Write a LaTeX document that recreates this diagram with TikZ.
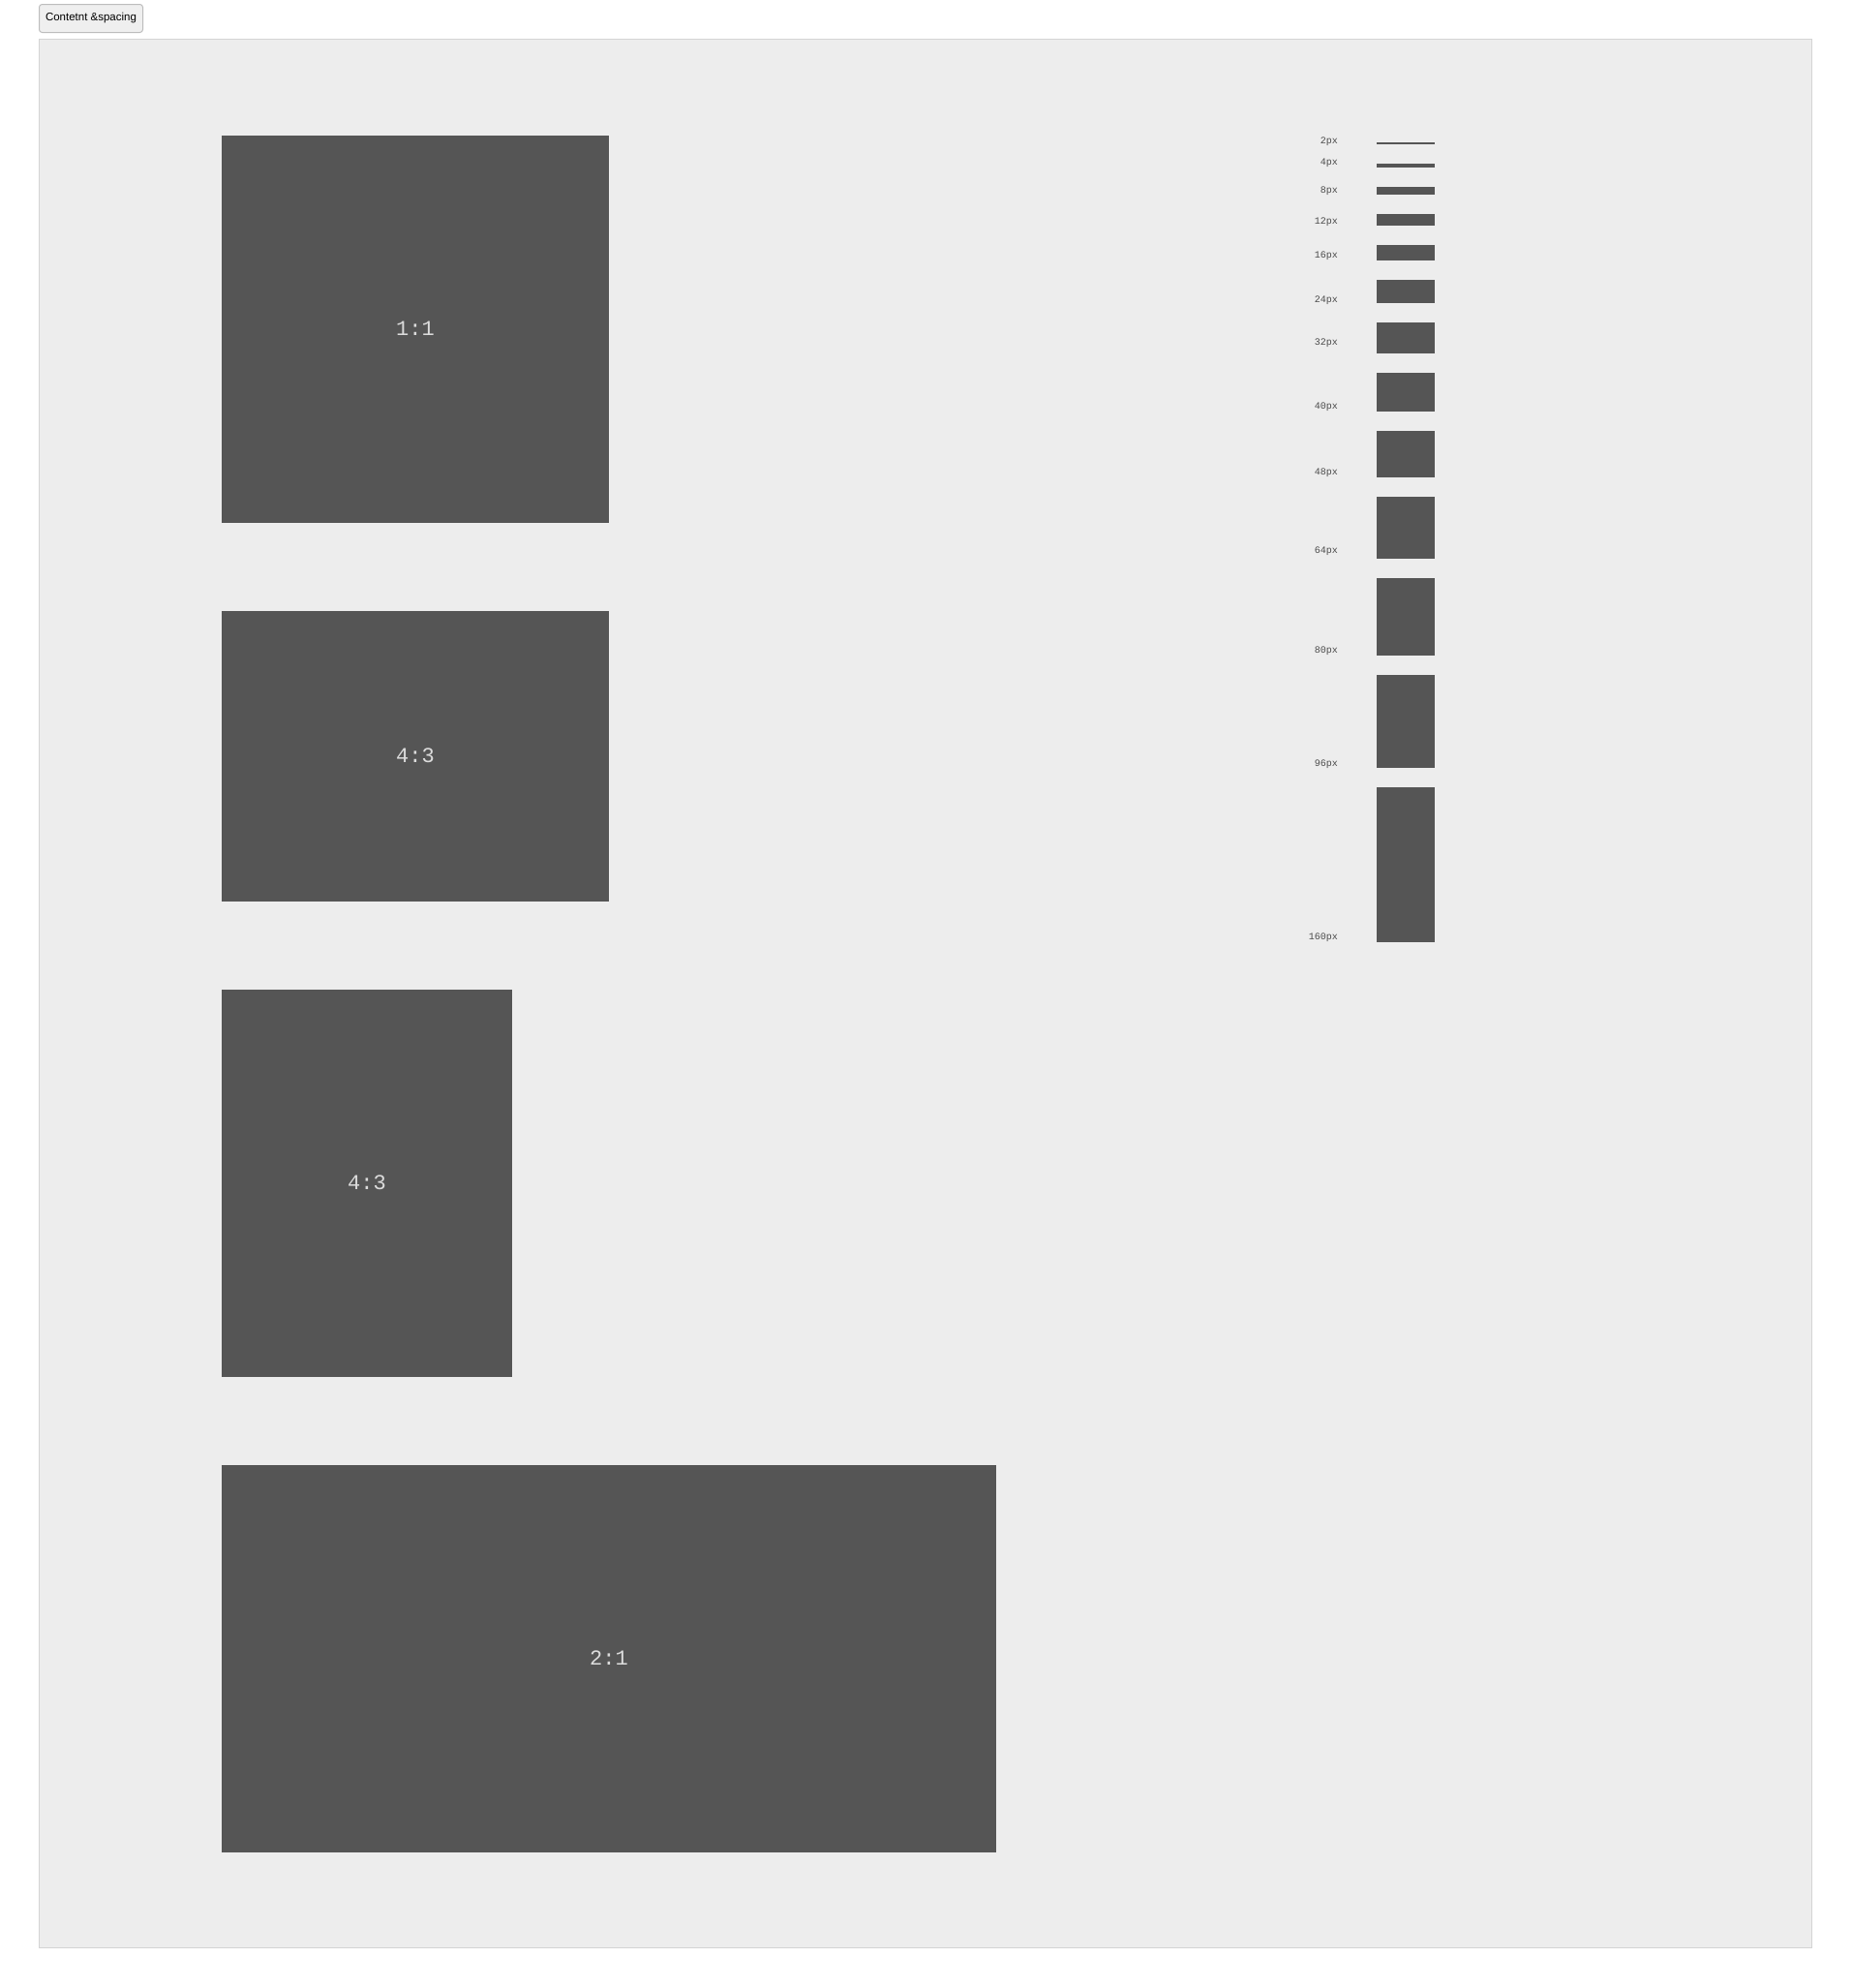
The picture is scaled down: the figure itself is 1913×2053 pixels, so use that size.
\documentclass[tikz,border=0pt]{standalone}
\usepackage{fontspec}
\setmainfont{Liberation Sans}
\newfontfamily\monofnt{Liberation Mono}
\definecolor{panelbg}{HTML}{EDEDED}
\definecolor{panelborder}{HTML}{D4D4D4}
\definecolor{boxfill}{HTML}{555555}
\definecolor{boxtext}{HTML}{DCDCDC}
\definecolor{labeltext}{HTML}{4A4A4A}
\definecolor{btnfill}{HTML}{EFEFEF}
\definecolor{btnborder}{HTML}{BDBDBD}
\tikzset{
  ratiobox/.style={fill=boxfill, draw=none},
  ratiolabel/.style={text=boxtext, font=\monofnt\fontsize{22}{24}\selectfont},
  bar/.style={fill=boxfill, draw=none},
  barlabel/.style={text=labeltext, font=\monofnt\fontsize{10}{11}\selectfont, anchor=south east, inner sep=0pt},
}
\begin{document}
\begin{tikzpicture}[x=1pt,y=-1pt]
\useasboundingbox (0,0) rectangle (1913,2053);
\fill[white] (0,0) rectangle (1913,2053);
% button
\draw[fill=btnfill, draw=btnborder, line width=1pt, rounded corners=3pt] (40.5,4.5) rectangle (147.5,33.5);
\node[font=\fontsize{11.5}{13}\selectfont, inner sep=0pt] (btn) at (94,19) {Contetnt \&spacing};
% panel
\draw[fill=panelbg, draw=panelborder, line width=1pt] (40.5,40.5) rectangle (1871.5,2011.5);
% ratio boxes
\fill[ratiobox] (229,140) rectangle (629,540);
\node[ratiolabel] (r1) at (429,339) {1:1};
\fill[ratiobox] (229,631) rectangle (629,931);
\node[ratiolabel] (r2) at (429,780) {4:3};
\fill[ratiobox] (229,1022) rectangle (529,1422);
\node[ratiolabel] (r3) at (379,1221) {4:3};
\fill[ratiobox] (229,1513) rectangle (1029,1913);
\node[ratiolabel] (r4) at (629,1712) {2:1};
% spacing bars
\foreach \t/\b/\y/\l in {147/149/151/2px,169/173/173/4px,193/201/202/8px,221/233/234/12px,253/269/269/16px,289/313/315/24px,333/365/359/32px,385/425/425/40px,445/493/493/48px,513/577/574/64px,597/677/677/80px,697/793/794/96px,813/973/973/160px}{
  \fill[bar] (1422,\t) rectangle (1482,\b);
  \node[barlabel] (lab\l) at (1382,\y) {\l};
}
\end{tikzpicture}
\end{document}
